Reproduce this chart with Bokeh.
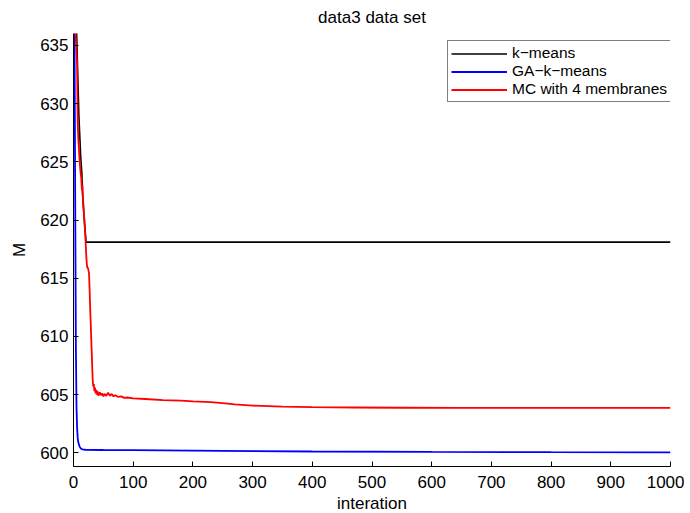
from bokeh.plotting import figure
from bokeh.models import Range1d, FixedTicker, Legend, LegendItem
from bokeh.embed import file_html
from bokeh.resources import INLINE

# ---- data ----
kmeans_iter = [0, 5, 9, 12, 14, 15, 18, 21, 1000]
kmeans_m = [652.0, 636.5, 629.0, 625.5, 624.0, 622.3, 620.1, 618.1, 618.1]

ga_iter = [0, 1, 2, 3, 4, 5, 6, 7, 8, 10, 12, 15, 20, 50, 100, 150, 250, 400, 600, 800, 1000]
ga_m = [660.0, 645.0, 632.0, 620.0, 609.0, 604.0, 602.2, 601.3, 600.9, 600.55, 600.38,
        600.3, 600.26, 600.24, 600.22, 600.2, 600.16, 600.11, 600.07, 600.05, 600.04]

mc_iter = [0, 2, 3.5, 6, 7, 8, 9, 10, 11, 12, 13, 14, 15, 16, 17, 18, 19, 20, 21, 22, 23,
           24, 25, 26, 27, 28, 29, 30, 31, 32, 33, 34, 35, 36, 37, 38, 39, 40, 42, 44, 46,
           48, 50, 52, 55, 58, 61, 64, 67, 70, 75, 80, 85, 90, 100, 120, 150, 180, 200,
           230, 250, 270, 300, 350, 400, 470, 550, 650, 800, 1000]
mc_m = [680.0, 645.0, 636.0, 633.4, 628.5, 627.0, 626.2, 625.3, 624.6, 624.0, 623.6,
        622.6, 623.0, 621.8, 620.9, 620.2, 619.3, 618.5, 617.3, 616.4, 615.9, 615.9,
        615.7, 615.4, 614.0, 612.3, 610.9, 609.4, 607.9, 606.4, 605.7, 605.9, 605.3,
        605.6, 605.1, 605.4, 605.0, 605.3, 604.9, 605.2, 604.95, 605.1, 604.85, 605.05,
        604.9, 605.15, 604.9, 605.05, 604.85, 604.95, 604.8, 604.85, 604.72, 604.75,
        604.68, 604.62, 604.52, 604.48, 604.42, 604.35, 604.26, 604.15, 604.05, 603.96,
        603.92, 603.89, 603.87, 603.86, 603.85, 603.85]

x_ticks = [0, 100, 200, 300, 400, 500, 600, 700, 800, 900, 1000]
y_ticks = [600, 605, 610, 615, 620, 625, 630, 635]

series_labels = ["k\u2212means", "GA\u2212k\u2212means", "MC with 4 membranes"]
series_colors = ["#000000", "#0000FF", "#FF0000"]

FONT = "Liberation Sans"

p = figure(
    frame_width=597, frame_height=433,
    x_range=Range1d(0, 1000), y_range=Range1d(598.82, 636.03),
    output_backend="svg", toolbar_location=None,
    title="data3 data set",
    min_border_left=73, min_border_right=14, min_border_top=33, min_border_bottom=40,
)
p.outline_line_color = None
p.grid.visible = False

p.title.align = "center"
p.title.vertical_align = "middle"
p.title.text_font = FONT
p.title.text_font_size = "17px"
p.title.text_font_style = "normal"
p.title.text_color = "#000000"
p.title.standoff = 11

for ax in (p.xaxis[0], p.yaxis[0]):
    ax.major_tick_in = 5
    ax.major_tick_out = 0
    ax.minor_tick_line_color = None
    ax.axis_line_color = "#000000"
    ax.major_tick_line_color = "#000000"
    ax.major_label_text_font = FONT
    ax.major_label_text_font_size = "17px"
    ax.major_label_text_color = "#000000"
    ax.axis_label_text_font = FONT
    ax.axis_label_text_font_size = "17px"
    ax.axis_label_text_font_style = "normal"
    ax.axis_label_text_color = "#000000"

p.xaxis[0].ticker = FixedTicker(ticks=x_ticks)
p.yaxis[0].ticker = FixedTicker(ticks=y_ticks)
p.xaxis[0].axis_label = "interation"
p.yaxis[0].axis_label = "M"
p.xaxis[0].major_label_standoff = 9
p.yaxis[0].major_label_standoff = 5
p.xaxis[0].axis_label_standoff = 3
p.yaxis[0].axis_label_standoff = 8

r_k = p.line(kmeans_iter, kmeans_m, line_color=series_colors[0], line_width=1.6)
r_g = p.line(ga_iter, ga_m, line_color=series_colors[1], line_width=1.8)
r_m = p.line(mc_iter, mc_m, line_color=series_colors[2], line_width=1.8)

legend = Legend(
    items=[LegendItem(label=series_labels[0], renderers=[r_k]),
           LegendItem(label=series_labels[1], renderers=[r_g]),
           LegendItem(label=series_labels[2], renderers=[r_m])],
    location=(374, 364),
    padding=3, spacing=0, margin=0,
    glyph_width=56, glyph_height=15, label_height=15,
    label_standoff=5,
    label_text_font=FONT, label_text_font_size="15.5px", label_text_color="#000000",
    border_line_color="#000000", border_line_width=1,
    background_fill_color="#FFFFFF", background_fill_alpha=1.0,
)
p.add_layout(legend, "center")

open("out.html", "w").write(file_html(p, INLINE))
